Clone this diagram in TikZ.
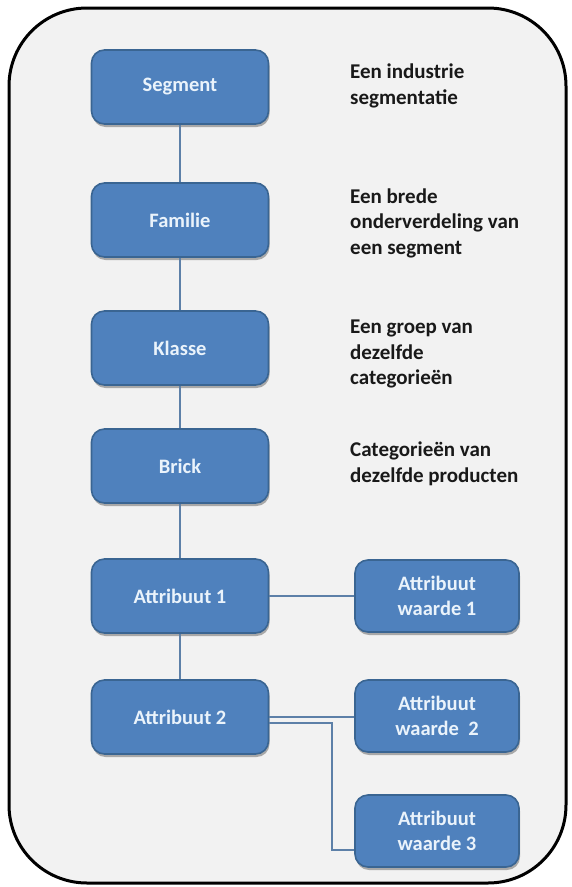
\documentclass[tikz,border=0pt]{standalone}
\usepackage{fontspec}
\setmainfont{Carlito}
\usepackage{tikz}
\usetikzlibrary{shadows}

\definecolor{boxblauw}{HTML}{4F81BD}
\definecolor{boxrand}{HTML}{3A6592}
\definecolor{boxtekst}{HTML}{EAF3FB}
\definecolor{lijnkleur}{HTML}{5D80A8}
\definecolor{achtergrond}{HTML}{F2F2F2}

\tikzset{
    blok/.style={draw=boxrand, line width=1.6pt, fill=boxblauw, rounded corners=13pt,
        minimum width=177pt, minimum height=74pt, text=boxtekst, align=center,
        font=\bfseries\fontsize{20.5}{25}\selectfont,
        drop shadow={shadow xshift=1pt, shadow yshift=-3pt, opacity=0.3, fill=black}},
    waardeblok/.style={blok, minimum width=164pt, minimum height=72pt},
    uitleg/.style={anchor=west, align=left, inner sep=4pt, text=black!90,
        font=\bfseries\fontsize{21}{25.5}\selectfont},
    lijn/.style={draw=lijnkleur, line width=1.3pt}
}

\begin{document}
\begin{tikzpicture}[x=1pt, y=-1pt]
            \useasboundingbox (0,0) rectangle (571,887);
            \draw[line width=3pt, fill=achtergrond, rounded corners=78pt] (9,8) rectangle (566,883);

            \node[blok] (s1) at (180, 87) {Segment};
            \node[blok] (s2) at (180, 220) {Familie};
            \node[blok] (s3) at (180, 348) {Klasse};
            \node[blok] (s4) at (180, 466) {Brick};
            \node[blok] (s5) at (180, 596) {Attribuut 1};
            \node[blok] (s6) at (180, 717) {Attribuut 2};

            \node[waardeblok] (w1) at (437, 596) {Attribuut\\waarde 1};
            \node[waardeblok] (w2) at (437, 716) {Attribuut\\waarde\ \ 2};
            \node[waardeblok] (w3) at (437, 831) {Attribuut\\waarde 3};

            \node[uitleg] (t1) at (346, 86) {Een industrie\\segmentatie};
            \node[uitleg] (t2) at (346, 223) {Een brede\\onderverdeling van\\een segment};
            \node[uitleg] (t3) at (346, 354) {Een groep van\\dezelfde\\categorieën};
            \node[uitleg] (t4) at (346, 464) {Categorieën van\\dezelfde producten};

            \coordinate (k1) at (332, 723);

            \draw[lijn] (s1) -- (s2);
            \draw[lijn] (s2) -- (s3);
            \draw[lijn] (s3) -- (s4);
            \draw[lijn] (s4) -- (s5);
            \draw[lijn] (s5) -- (s6);
            \draw[lijn] (s5) -- (w1);
            \draw[lijn] (s6.east) -- (s6.east -| w2.west);
            \draw[lijn] ([yshift=-6pt]s6.east) -- (k1) |- ([yshift=-19pt]w3.west);
        \end{tikzpicture}
\end{document}
